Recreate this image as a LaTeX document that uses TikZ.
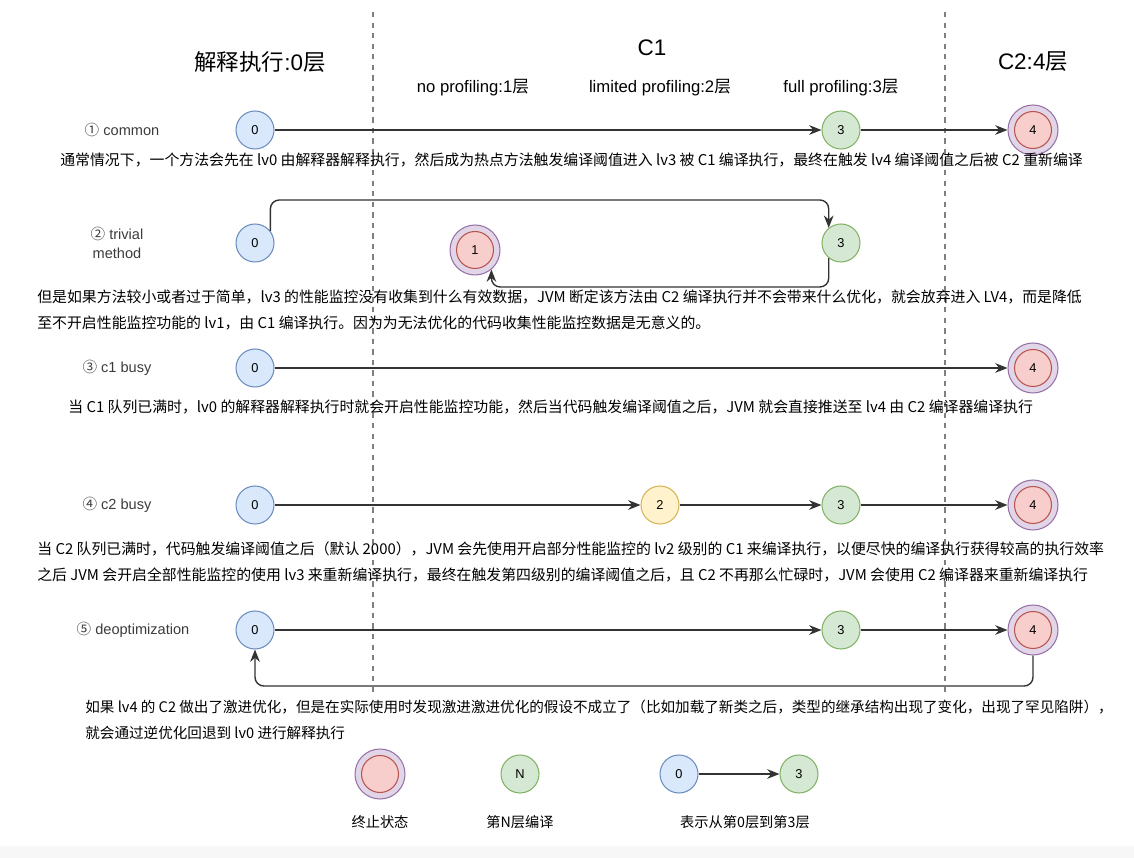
\documentclass[tikz,border=0pt]{standalone}
\usepackage{fontspec}
\setmainfont{Liberation Sans}
\newfontfamily\cjk{Noto Sans CJK SC}
\usetikzlibrary{shapes.geometric, arrows.meta, positioning, calc}
\definecolor{bluefill}{RGB}{218, 232, 252}
\definecolor{blueline}{RGB}{108, 142, 191}
\definecolor{greenfill}{RGB}{213, 232, 212}
\definecolor{greenline}{RGB}{130, 179, 102}
\definecolor{yellowfill}{RGB}{255, 242, 204}
\definecolor{yellowline}{RGB}{214, 182, 86}
\definecolor{redfill}{RGB}{248, 206, 204}
\definecolor{redline}{RGB}{184, 84, 80}
\definecolor{purplefill}{RGB}{225, 213, 231}
\definecolor{purpleline}{RGB}{150, 115, 166}
\definecolor{flowgray}{RGB}{51, 51, 51}
\definecolor{labelgray}{RGB}{60, 60, 60}

\begin{document}
\begin{tikzpicture}[x=0.02cm, y=-0.02cm, >={Stealth[length=7pt, width=5.5pt]},
    lvl/.style={circle, draw, line width=0.6pt, minimum size=0.76cm, inner sep=0pt, font=\fontsize{7.3}{8}\selectfont},
    lv0/.style={lvl, draw=blueline, fill=bluefill},
    lvc1/.style={lvl, draw=greenline, fill=greenfill},
    lvc2/.style={lvl, draw=yellowline, fill=yellowfill},
    endout/.style={circle, draw=purpleline, fill=purplefill, line width=0.6pt, minimum size=1.0cm, inner sep=0pt},
    endin/.style={lvl, draw=redline, fill=redfill, minimum size=0.74cm},
    flow/.style={->, line width=0.8pt, draw=flowgray, rounded corners=5pt},
    desc/.style={anchor=west, inner sep=0pt, align=left, font=\cjk\fontsize{8.47}{14.7}\selectfont},
    rowlabel/.style={inner sep=0pt, align=center, text=labelgray, font=\fontsize{8.3}{11}\selectfont},
    head/.style={inner sep=0pt, font=\fontsize{12.8}{14}\selectfont},
    subhead/.style={inner sep=0pt, font=\fontsize{9.5}{11}\selectfont},
    legendtxt/.style={inner sep=0pt, font=\cjk\fontsize{8.1}{10}\selectfont}]
    \useasboundingbox (0,0) rectangle (1134,858);
    \fill[gray!6] (0,846) rectangle (1134,858);

    % 分层虚线
    \draw[dashed, line width=1pt, gray] (373,12) -- (373,696);
    \draw[dashed, line width=1pt, gray] (945,12) -- (945,696);

    \node[head] (h0) at (260,62) {{\cjk 解释执行}:0{\cjk 层}};
    \node[head] (hc1) at (652,48) {C1};
    \node[head] (hc2) at (1033,62) {C2:4{\cjk 层}};
    \node[subhead] (s1) at (473,88) {no profiling:1{\cjk 层}};
    \node[subhead] (s2) at (660,88) {limited profiling:2{\cjk 层}};
    \node[subhead] (s3) at (841,88) {full profiling:3{\cjk 层}};

    % ① common
    \node[rowlabel] (l1) at (122,130) {{\cjk ①} common};
    \node[lv0] (r1a) at (255,130) {0};
    \node[lvc1] (r1c) at (841,130) {3};
    \node[endout] (r1d) at (1033,130) {};
    \node[endin] (r1d-in) at (r1d) {4};
    \draw[flow] (r1a) -- (r1c);
    \draw[flow] (r1c) -- (r1d);
    \node[desc] (t1) at (60,160) {通常情况下，一个方法会先在 lv0 由解释器解释执行，然后成为热点方法触发编译阈值进入 lv3 被 C1 编译执行，最终在触发 lv4 编译阈值之后被 C2 重新编译};

    % ② trivial method
    \node[rowlabel] (l2) at (117,243) {{\cjk ②} trivial\\method};
    \node[lv0] (r2a) at (255,243) {0};
    \node[endout] (r2b) at (475,250) {};
    \node[endin] (r2b-in) at (r2b) {1};
    \node[lvc1] (r2c) at (841,243) {3};
    \coordinate (r2top) at (0,200);
    \coordinate (r2bot) at (0,287);
    \draw[flow] (r2a.38) |- (r2c.129 |- r2top) -- (r2c.129);
    \draw[flow] (r2c.231) |- (r2b.-50 |- r2bot) -- (r2b.-50);
    \node[desc] (t2) at (37,310) {但是如果方法较小或者过于简单，lv3 的性能监控没有收集到什么有效数据，JVM 断定该方法由 C2 编译执行并不会带来什么优化，就会放弃进入 LV4，而是降低\\至不开启性能监控功能的 lv1，由 C1 编译执行。因为为无法优化的代码收集性能监控数据是无意义的。};

    % ③ c1 busy
    \node[rowlabel] (l3) at (117,368) {{\cjk ③} c1 busy};
    \node[lv0] (r3a) at (255,368) {0};
    \node[endout] (r3d) at (1033,368) {};
    \node[endin] (r3d-in) at (r3d) {4};
    \draw[flow] (r3a) -- (r3d);
    \node[desc] (t3) at (68,407) {当 C1 队列已满时，lv0 的解释器解释执行时就会开启性能监控功能，然后当代码触发编译阈值之后，JVM 就会直接推送至 lv4 由 C2 编译器编译执行};

    % ④ c2 busy
    \node[rowlabel] (l4) at (117,505) {{\cjk ④} c2 busy};
    \node[lv0] (r4a) at (255,505) {0};
    \node[lvc2] (r4b) at (660,505) {2};
    \node[lvc1] (r4c) at (841,505) {3};
    \node[endout] (r4d) at (1033,505) {};
    \node[endin] (r4d-in) at (r4d) {4};
    \draw[flow] (r4a) -- (r4b);
    \draw[flow] (r4b) -- (r4c);
    \draw[flow] (r4c) -- (r4d);
    \node[desc] (t4) at (37,562) {当 C2 队列已满时，代码触发编译阈值之后（默认 2000），JVM 会先使用开启部分性能监控的 lv2 级别的 C1 来编译执行，以便尽快的编译执行获得较高的执行效率\\之后 JVM 会开启全部性能监控的使用 lv3 来重新编译执行，最终在触发第四级别的编译阈值之后，且 C2 不再那么忙碌时，JVM 会使用 C2 编译器来重新编译执行};

    % ⑤ deoptimization
    \node[rowlabel] (l5) at (133,630) {{\cjk ⑤} deoptimization};
    \node[lv0] (r5a) at (255,630) {0};
    \node[lvc1] (r5c) at (841,630) {3};
    \node[endout] (r5d) at (1033,630) {};
    \node[endin] (r5d-in) at (r5d) {4};
    \coordinate (r5bot) at (0,686);
    \draw[flow] (r5a) -- (r5c);
    \draw[flow] (r5c) -- (r5d);
    \draw[flow] (r5d.south) |- (r5a.south |- r5bot) -- (r5a.south);
    \node[desc, font=\cjk\fontsize{8.3}{14.7}\selectfont] (t5) at (85,720) {如果 lv4 的 C2 做出了激进优化，但是在实际使用时发现激进激进优化的假设不成立了（比如加载了新类之后，类型的继承结构出现了变化，出现了罕见陷阱），\\就会通过逆优化回退到 lv0 进行解释执行};

    % 图例
    \node[endout] (lg1) at (380,774) {};
    \node[endin] (lg1-in) at (lg1) {};
    \node[legendtxt] (lg1t) at (380,822) {终止状态};
    \node[lvc1] (lgN) at (520,774) {N};
    \node[legendtxt] (lgNt) at (520,822) {第N层编译};
    \node[lv0] (lg0) at (679,774) {0};
    \node[lvc1] (lg3) at (799,774) {3};
    \draw[flow] (lg0) -- (lg3);
    \node[legendtxt] (lg3t) at (745,822) {表示从第0层到第3层};
\end{tikzpicture}
\end{document}
